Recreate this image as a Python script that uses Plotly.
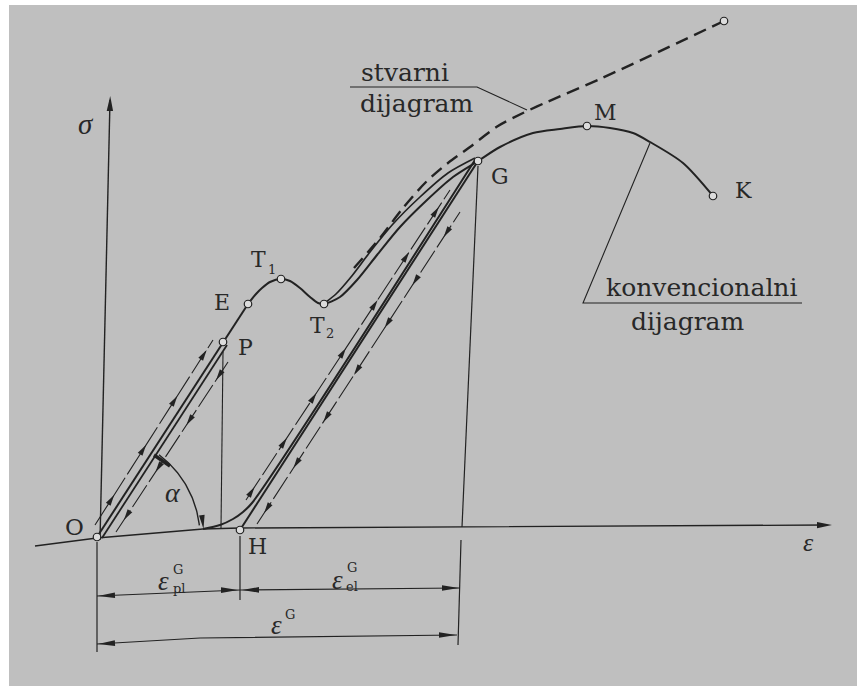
import numpy as np
import plotly.graph_objects as go

# ---------------- data (pixel space of the 860x692 picture) ----------------
# conventional diagram O-P-E (straight part) and E..K (curved part)
lin_x = [97, 223, 248]
lin_y = [537, 342, 304]
conv_x = [248, 256, 262, 270, 281, 290, 300, 310, 318, 324, 340, 357, 377, 400, 427, 453, 478, 500, 533, 560, 587, 610, 633, 650, 683, 713]
conv_y = [304, 294, 288, 282, 279, 281, 288, 297, 303, 304, 297, 280, 255, 227, 200, 177, 161, 147, 133, 129, 126, 128, 133, 142, 163, 196]
# second (unloading) branch beside T2-G
branch_x = [326, 336, 351, 370, 393, 420, 448, 475]
branch_y = [302, 294, 277, 252, 224, 197, 173, 158]
# second line beside O-P
op2_x = [102, 227]
op2_y = [538, 345]
# re-loading line H-G and the curved one starting at the end of the alpha arc
hg_x = [240, 478]
hg_y = [530, 161]
hg2_x = [203, 220, 233, 243, 252, 475]
hg2_y = [529, 525, 519, 512, 503, 160]
# true ("stvarni") diagram, dashed
true_x = [354, 380, 403, 426, 448, 470, 498, 523, 547, 600, 724]
true_y = [268, 238, 208, 182, 163, 147, 126, 113, 102, 79, 21]

# marked points
pt_names = ["O", "H", "P", "E", "T1", "T2", "G", "M", "K", "end"]
pt_x = [97, 240, 223, 248, 281, 324, 478, 587, 713, 724]
pt_y = [537, 530, 342, 304, 279, 304, 161, 126, 196, 21]

# thin guide lines with direction arrows: (x0, y0, x1, y1)
guide_lines = {
    "op_up": (95, 525, 213, 340),
    "op_down": (116, 532, 228, 362),
    "hg_up": (246, 500, 450, 190),
    "hg_down": (257, 524, 460, 212),
}
# arrowhead tips on the guide lines (y values), direction: +1 upward, -1 downward
guide_tips = {
    "op_up": ([495, 445, 396, 350], +1),
    "op_down": ([520, 472, 425, 380], -1),
    "hg_up": ([487, 438, 393, 348, 300, 252, 207], +1),
    "hg_down": ([513, 468, 422, 375, 328, 285, 237], -1),
}

# axes
xaxis_x = [35, 97, 203, 240, 826]
xaxis_y = [546, 538, 529, 528, 525]
yaxis_x = [100, 110]
yaxis_y = [540, 100]

INK = "#222222"
TXT = "#282828"
BG = "#bfbfbf"
FONT = "DejaVu Serif"

fig = go.Figure()
shapes = []


def line(x, y, width=1.3, color=INK, dash=None, shape="linear"):
    fig.add_trace(go.Scatter(x=x, y=y, mode="lines",
                             line=dict(color=color, width=width, dash=dash, shape=shape, smoothing=0.8),
                             hoverinfo="skip", showlegend=False))


def arrowhead(tx, ty, dx, dy, L=10, W=2.4):
    n = np.hypot(dx, dy)
    ux, uy = dx / n, dy / n
    bx, by = tx - ux * L, ty - uy * L
    px, py = -uy, ux
    path = (f"M{tx:.2f},{ty:.2f} L{bx + px * W:.2f},{by + py * W:.2f} "
            f"L{bx - px * W:.2f},{by - py * W:.2f} Z")
    shapes.append(dict(type="path", path=path, xref="x", yref="y",
                       fillcolor=INK, line=dict(width=0), layer="above"))


# background sheet
shapes.append(dict(type="rect", xref="x", yref="y", x0=9, y0=5, x1=857, y1=686,
                   fillcolor=BG, line=dict(width=0), layer="below"))

# axes
line(xaxis_x, xaxis_y, width=1.4)
arrowhead(832, 525, 1, -0.005, L=15, W=3.2)
line(yaxis_x, yaxis_y, width=1.4)
arrowhead(110.2, 96, 0.02, -1, L=15, W=3.2)

# extension / reference lines
line([223, 221], [352, 528], width=1.1)
line([478, 462], [166, 527], width=1.2)
line([461, 458], [540, 645], width=1.2)
line([97, 97], [542, 652], width=1.2)
line([240, 240], [536, 600], width=1.2)

# dimension lines
line([97, 240, 460], [596, 590, 588], width=1.1)
arrowhead(98, 596, -1, 0.04, L=17, W=2.8)
arrowhead(238, 590, 1, -0.01, L=17, W=2.8)
arrowhead(242, 590, -1, 0.01, L=17, W=2.8)
arrowhead(459, 588, 1, 0, L=17, W=2.8)
line([97, 200, 457], [644, 638, 635], width=1.1)
arrowhead(98, 644, -1, 0.05, L=17, W=2.8)
arrowhead(456, 635, 1, 0, L=17, W=2.8)

# thin guide lines + direction arrows
for key, (x0, y0, x1, y1) in guide_lines.items():
    line([x0, x1], [y0, y1], width=1.1, dash="26px,4px")
    tips, sgn = guide_tips[key]
    for ty in tips:
        t = (ty - y0) / (y1 - y0)
        tx = x0 + t * (x1 - x0)
        d = (x1 - x0, y1 - y0) if sgn > 0 else (x0 - x1, y0 - y1)
        arrowhead(tx, ty, d[0], d[1], L=11, W=2.8)

# diagrams
line(op2_x, op2_y, width=1.8)
line(lin_x, lin_y, width=2.0)
line(conv_x, conv_y, width=2.0, shape="spline")
line(branch_x, branch_y, width=1.7, shape="spline")
line(hg_x, hg_y, width=2.0)
line(hg2_x, hg2_y, width=2.0, shape="spline")
line(true_x, true_y, width=2.4, dash="13px,7px", shape="spline")

# alpha arc
ang = np.radians(np.linspace(53, 6.5, 50))
R = 103
line(list(97 + R * np.cos(ang)), list(537 - R * np.sin(ang)), width=1.4)
arrowhead(203.5, 529, 0.12, 1, L=14, W=2.8)
line([154, 170], [455, 466], width=3.4)

# leader lines for the captions
line([350, 477, 527], [87, 87, 110], width=1.1)
line([650, 583, 802], [143, 303, 303], width=1.1)

# marked points
fig.add_trace(go.Scatter(x=pt_x, y=pt_y, mode="markers",
                         marker=dict(symbol="circle", size=7.5, color="#dcdcdc",
                                     line=dict(color=INK, width=1.2)),
                         hoverinfo="skip", showlegend=False))

# ---------------- texts ----------------
def text(x, y, s, size=22, italic=False, family=FONT):
    fig.add_annotation(x=x, y=y, xref="x", yref="y", text=s, showarrow=False,
                       xanchor="center", yanchor="middle",
                       font=dict(family=family, size=size, color=TXT,
                                 style="italic" if italic else "normal"))

text(74, 527, "O", 23)
text(257, 546, "H", 22)
text(245, 347, "P", 22)
text(222, 302, "E", 22)
text(258, 259, "T", 22)
text(272, 269, "1", 13)
text(317, 325, "T", 22)
text(330, 333, "2", 13)
text(500, 176, "G", 22)
text(605, 112, "M", 22)
text(743, 190, "K", 22)

text(86, 124, "σ", 29, italic=True, family="Liberation Serif")
text(808, 542, "ε", 26, italic=True, family="Liberation Serif")
text(173, 492, "α", 28, italic=True, family="Liberation Serif")

text(163, 581, "ε", 27, italic=True, family="Liberation Serif")
text(178, 569, "G", 13)
text(179, 588, "pl", 13)
text(337, 580, "ε", 27, italic=True, family="Liberation Serif")
text(352, 567, "G", 13)
text(352, 586, "el", 13)
text(276, 625, "ε", 27, italic=True, family="Liberation Serif")
text(290, 614, "G", 13)

text(405, 72, "stvarni", 25)
text(417, 103, "dijagram", 25)
text(701, 287, "konvencionalni", 25)
text(688, 321, "dijagram", 25)
text(388, 697, "a)", 20)

fig.update_layout(
    width=860, height=692,
    margin=dict(l=0, r=0, t=0, b=0),
    paper_bgcolor="white", plot_bgcolor="white",
    xaxis=dict(range=[0, 860], visible=False, fixedrange=True),
    yaxis=dict(range=[692, 0], visible=False, fixedrange=True),
    shapes=shapes,
    showlegend=False,
)
fig.write_html("out.html", config={"displayModeBar": False, "staticPlot": True},
               post_script="document.body.style.margin='0';document.body.style.overflow='hidden';")
